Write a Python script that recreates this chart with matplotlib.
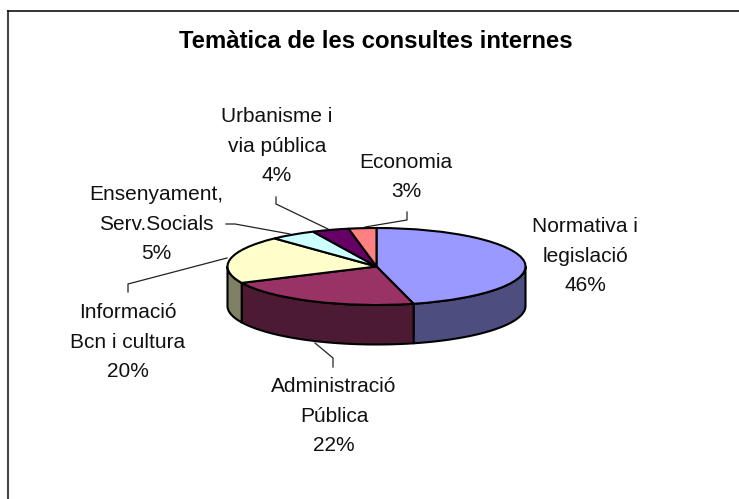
import matplotlib
matplotlib.use('Agg')
import matplotlib.pyplot as plt
import numpy as np
from matplotlib.lines import Line2D

W, H = 739, 499

# chart data
categories = ['Normativa i\nlegislació', 'Administració\nPública', 'Informació\nBcn i cultura',
              'Ensenyament,\nServ.Socials', 'Urbanisme i\nvia pública', 'Economia']
values = [46, 22, 20, 5, 4, 3]
top_colors = ['#9999FF', '#993366', '#FFFFCC', '#CCFFFF', '#660066', '#FF8080']
side_colors = ['#4D4D80', '#4D1A33', '#808066', '#667F7F', '#330033', '#804040']
title = 'Temàtica de les consultes internes'

# label centres in pixels, and the leader lines
label_pos = [(585, 256), (334, 416), (128, 342), (156, 224), (277, 146), (406, 177)]
leaders = [None,
           [(333, 367), (333, 358), (315, 343)],
           [(128, 292), (128, 284), (227, 258)],
           [(226, 224), (235, 224), (290, 234)],
           [(276, 197), (276, 204), (328, 229)],
           [(407, 212), (407, 220), (365, 227)]]

# pie geometry in pixels
cx, cy, rx, ry, depth = 376.5, 266.5, 149, 38.5, 39.5

plt.rcParams['font.family'] = ['Liberation Sans', 'DejaVu Sans']
fig = plt.figure(figsize=(W / 100, H / 100), dpi=100)
fig.patch.set_facecolor('white')


def px(x, y):
    return x / W, 1 - y / H


# frame: only top and left show
fig.add_artist(Line2D([7.5 / W, 7.5 / W], [0, 1 - 10.5 / H], color='#444444', lw=1.5))
fig.add_artist(Line2D([7.5 / W, 1], [1 - 10.5 / H, 1 - 10.5 / H], color='#111111', lw=1.2))

# axes in radius units, so the pie gets squashed into an ellipse
ax = fig.add_axes([0, 0, 1, 1])
ax.pie(values, startangle=90, counterclock=False, colors=top_colors, radius=1, center=(0, 0),
       wedgeprops=dict(edgecolor='black', linewidth=1.5), frame=True, normalize=True)
ax.set_aspect('auto')
ax.set_xlim(-cx / rx, (W - cx) / rx)
ax.set_ylim((cy - H) / ry, cy / ry)
ax.set_xticks([])
ax.set_yticks([])
ax.axis('off')

# side wall: only the front half of each slice is visible
d = depth / ry
ends = np.cumsum(values) / sum(values) * 360
starts = ends - np.array(values) / sum(values) * 360
for s, e, c in zip(starts, ends, side_colors):
    lo, hi = max(s, 90), min(e, 270)
    if lo >= hi:
        continue
    a = np.radians(np.linspace(lo, hi, 60))
    x, y = np.sin(a), np.cos(a)
    ax.fill(np.r_[x, x[::-1]], np.r_[y, y[::-1] - d], facecolor=c, edgecolor='black',
            linewidth=1.5, joinstyle='round', zorder=0.5)

fig.text(*px(376, 41.5), title, ha='center', va='center', fontsize=17.2, fontweight='bold', color='black')

for name, v, pos, lead in zip(categories, values, label_pos, leaders):
    fig.text(*px(*pos), f'{name}\n{v}%', ha='center', va='center', multialignment='center',
             fontsize=15, linespacing=1.72, color='#111111')
    if lead:
        xs, ys = zip(*[px(*p) for p in lead])
        fig.add_artist(Line2D(xs, ys, color='#222222', lw=0.9))

fig.savefig('out.png', dpi=100)
